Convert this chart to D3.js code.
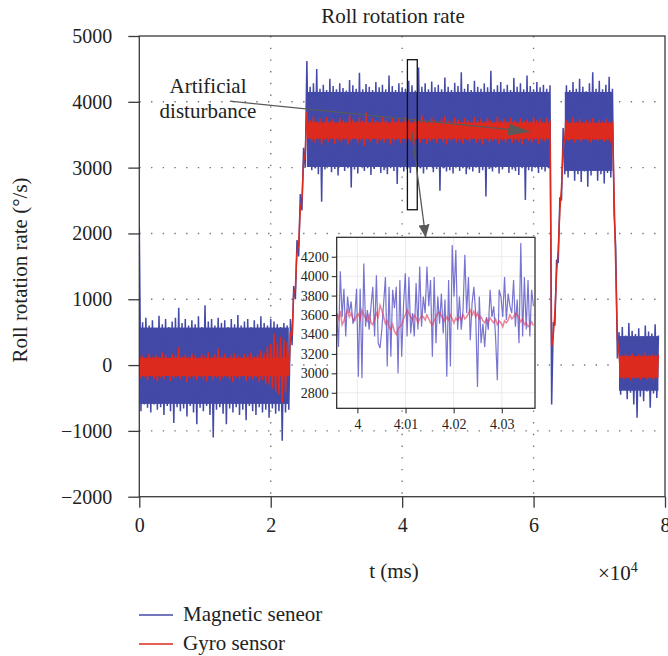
<!DOCTYPE html>
<html>
<head>
<meta charset="utf-8">
<script src="https://cdn.jsdelivr.net/npm/d3@7"></script>
<style>
  body { margin: 0; background: #fff; }
  text { font-family: "Liberation Serif", "Times New Roman", serif; fill: #222; }
</style>
</head>
<body>
<div id="main"></div>
<script>
// sample clock of the recorded series (ms between two stored points)
const SAMPLE_MS = 250;

// magnetic sensor (alternating upper / lower excursions)
const magneticValues = [
  2100,-700, 650,-600, 720,-650, 600,-720, 680,-600, 560,-680, 750,-640, 620,-760, 700,-620, 580,-700,
  660,-880, 720,-640, 870,-700, 640,-660, 700,-780, 600,-620, 680,-720, 620,-900, 740,-650, 580,-700,
  910,-620, 660,-760, 700,-1100, 600,-680, 720,-640, 640,-740, 680,-900, 580,-660, 700,-720, 620,-640,
  760,-760, 600,-680, 660,-840, 700,-620, 580,-700, 680,-760, 620,-640, 740,-720, 640,-680, 600,-800,
  700,-660, 660,-740, 620,-700, 580,-1150, 640,-720, 600,-680,
  700, 300, 1200, 1000, 1900, 1650, 2600, 2350, 3300, 3000,
  4620,3050, 4230,2960, 4280,2990, 4500,2900, 4200,2480, 4260,2970, 4180,3010, 4350,2930, 4240,2980, 4190,2880,
  4280,3010, 4210,2950, 4170,2990, 4330,2700, 4250,2970, 4200,2910, 4440,3020, 4190,2950, 4270,2990, 4230,2890,
  4180,2980, 4300,3010, 4220,2920, 4260,2960, 4190,2900, 4400,2990, 4240,2950, 4180,2750, 4280,3000, 4220,2940,
  4200,2980, 4320,2920, 4250,3010, 4170,2960, 4520,2990, 4230,2910, 4280,2970, 4190,3020, 4310,2930, 4220,2980,
  4260,2650, 4190,2990, 4370,2940, 4230,2960, 4180,2910, 4290,3010, 4240,2950, 4450,2990, 4200,2900, 4270,2970,
  4180,2940, 4320,3000, 4230,2920, 4200,2960, 4280,2560, 4220,2980, 4470,2940, 4190,3000, 4250,2910, 4300,2970,
  4200,3010, 4260,2920, 4180,2970, 4360,2950, 4230,2890, 4280,2990, 4190,2510, 4400,2960, 4240,2940, 4190,3000,
  4300,2920, 4220,2970, 4260,2940, 4200,2990,
  4250, -600,
  650, 600, 1600, 1550, 2550, 2500, 3600,
  2900,
  4250,2850, 4180,2960, 4300,2800, 4200,2900, 4350,2780, 4230,2940, 4160,2710, 4280,2880, 4450,2950, 4200,2800,
  4320,2900, 4190,2760, 4260,2920, 4380,2850,
  4200,
  2300, 1800, 100,
  500,-450, 580,-380, 450,-520, 640,-420, 520,-600, 470,-800, 560,-480, 430,-550, 600,-400, 510,-650,
  480,-430, 620,-500, 450
];

// gyro sensor, same sample clock
const gyroValues = [
  170,-200, 140,-180, 110,-230, 180,-170, 130,-210, 160,-250, 120,-190, 190,-220, 150,-160, 110,-240,
  170,-200, 140,-180, 270,-220, 130,-170, 160,-260, 120,-200, 180,-190, 150,-230, 100,-180, 170,-210,
  140,-250, 190,-170, 120,-220, 160,-190, 250,-240, 130,-200, 170,-180, 110,-220, 150,-260, 180,-190,
  140,-210, 120,-170, 170,-240, 150,-200, 190,-220, 130,-190, 160,-260, 220,-230, 180,-280, 280,-300,
  320,-350, 480,-400, 340,-450, 430,-570, 390,-420, 350,-150,
  500, 450, 1100, 1150, 1750, 1800, 2400, 2500, 3100, 3200,
  3850,3450, 3720,3400, 3780,3380, 3700,3430, 3750,3350, 3690,3420, 3770,3390, 3710,3440, 3740,3360, 3680,3410,
  3760,3380, 3720,3430, 3690,3350, 3800,3400, 3730,3440, 3700,3370, 3770,3410, 3710,3330, 3840,3420, 3690,3390,
  3750,3440, 3720,3360, 3700,3410, 3780,3380, 3730,3430, 3690,3350, 3760,3400, 3710,3420, 3740,3370, 3700,3440,
  3770,3390, 3720,3410, 3690,3340, 3750,3420, 3710,3380, 3800,3430, 3730,3360, 3690,3400, 3760,3420, 3720,3370,
  3700,3440, 3740,3390, 3780,3350, 3710,3410, 3690,3430, 3760,3380, 3730,3400, 3700,3360, 3750,3420, 3720,3390,
  3690,3440, 3770,3370, 3710,3410, 3740,3350, 3700,3430, 3760,3390, 3720,3400, 3690,3420, 3780,3360, 3710,3410,
  3740,3380, 3700,3440, 3760,3370, 3720,3410, 3690,3390, 3750,3350, 3710,3430, 3730,3400, 3700,3380, 3770,3420,
  3720,3360, 3740,3410, 3690,3390, 3750,3430,
  3720, 280,
  450, 800, 1400, 1750, 2350, 2700, 3300,
  3450,
  3720,3400, 3680,3430, 3760,3380, 3700,3420, 3740,3390, 3690,3440, 3730,3400, 3710,3380, 3750,3420, 3680,3400,
  3720,3430, 3700,3390, 3740,3410, 3690,3380,
  3700,
  2600, 1500, 400,
  180,-200, 150,-220, 170,-190, 140,-230, 180,-210, 130,-200, 160,-225, 150,-190, 185,-215, 140,-200,
  170,-230, 150,-195, 160
];

// solid core of each noise band (where the trace is so dense it reads as a filled strip)
const magneticCore = [
  {t0: 0, t1: 22750, lo: -590, hi: 570},
  {t0: 25500, t1: 62500, lo: 3010, hi: 4150},
  {t0: 64750, t1: 72000, lo: 2950, hi: 4150},
  {t0: 73000, t1: 79000, lo: -390, hi: 440}
];
const gyroCore = [
  {t0: 0, t1: 22750, lo: -165, hi: 110},
  {t0: 25500, t1: 62500, lo: 3440, hi: 3685},
  {t0: 64750, t1: 72000, lo: 3430, hi: 3680},
  {t0: 73000, t1: 79000, lo: -190, hi: 135}
];

// zoomed window (inset)
const INSET_T0 = 39957;
const INSET_STEP_MS = 3.75;
const insetMagnetic = [
  3620, 3270, 4050, 3580, 3870, 3380, 3790, 3620, 3740, 3510,
  3580, 3870, 2965, 3870, 2950, 4130, 3480, 3650, 3450, 3690,
  3890, 3380, 4010, 3310, 3260, 3450, 3720, 3990, 3070, 3890,
  3170, 3860, 3670, 3890, 3000, 3960, 3170, 3690, 4030, 3380,
  3990, 3410, 3620, 3380, 3930, 3450, 4100, 3480, 3790, 3620,
  4100, 3690, 3960, 3170, 3990, 3310, 3790, 3510, 3820, 3410,
  3760, 2965, 3960, 3070, 4320, 3790, 4270, 3450, 3790, 3450,
  3650, 4220, 3620, 3990, 3340, 3720, 3890, 3620, 2860, 3790,
  3310, 3510, 3270, 3580, 3450, 3860, 3580, 3690, 3380, 2930,
  3860, 3790, 3580, 3990, 3550, 3820, 3690, 3620, 3960, 3480,
  3760, 3310, 4340, 3380, 3990, 3450, 3960, 3380, 3860, 3690
];
const insetGyro = [
  3620, 3560, 3640, 3500, 3540, 3600, 3650, 3580, 3620, 3560,
  3540, 3590, 3610, 3560, 3650, 3600, 3570, 3540, 3600, 3520,
  3500, 3560, 3620, 3580, 3700, 3650, 3580, 3510, 3540, 3480,
  3450, 3500, 3430, 3400, 3460, 3480, 3500, 3560, 3600, 3650,
  3620, 3580, 3550, 3600, 3570, 3520, 3560, 3590, 3580, 3550,
  3600, 3560, 3520, 3500, 3540, 3580, 3620, 3630, 3590, 3560,
  3540, 3580, 3550, 3600, 3560, 3520, 3570, 3540, 3580, 3550,
  3600, 3560, 3580, 3620, 3650, 3600, 3640, 3580, 3620, 3560,
  3580, 3540, 3520, 3560, 3530, 3570, 3540, 3520, 3560, 3500,
  3540, 3520, 3480, 3540, 3520, 3550, 3600, 3560, 3580, 3620,
  3600, 3570, 3530, 3560, 3500, 3520, 3480, 3500, 3530, 3490
];

const xTicks = [0, 20000, 40000, 60000, 80000];
const xTickLabels = ["0", "2", "4", "6", "8"];
const yTicks = [-2000, -1000, 0, 1000, 2000, 3000, 4000, 5000];
const xGrid = [20000, 40000, 60000];
const yGrid = [-1000, 0, 1000, 2000, 3000, 4000];
const insetXTicks = [40000, 40100, 40200, 40300];
const insetXTickLabels = ["4", "4.01", "4.02", "4.03"];
const insetYTicks = [2800, 3000, 3200, 3400, 3600, 3800, 4000, 4200];

const series = [
  {name: "Magnetic seneor", values: magneticValues, core: magneticCore, color: "#4349a6"},
  {name: "Gyro sensor", values: gyroValues, core: gyroCore, color: "#dd2a1f"}
];

const W = 668, H = 656;
const box = {left: 139.3, right: 665, top: 36, bottom: 496.7};
const insetBox = {left: 336.7, right: 535, top: 237.3, bottom: 408.3};

const svg = d3.select("#main").append("svg").attr("width", W).attr("height", H);
const defs = svg.append("defs");

const x = d3.scaleLinear().domain([0, 80000]).range([box.left, box.right]);
const y = d3.scaleLinear().domain([-2000, 5000]).range([box.bottom, box.top]);

defs.append("clipPath").attr("id", "plotClip").append("rect")
  .attr("x", box.left).attr("y", box.top)
  .attr("width", box.right - box.left).attr("height", box.bottom - box.top);

// dotted grid
const gridG = svg.append("g").attr("stroke", "#777").attr("stroke-width", 1.4)
  .attr("stroke-dasharray", "1.4,10.3");
gridG.selectAll("line.gy").data(yGrid).enter().append("line")
  .attr("x1", box.left).attr("x2", box.right)
  .attr("y1", d => y(d)).attr("y2", d => y(d));
gridG.selectAll("line.gx").data(xGrid).enter().append("line")
  .attr("x1", d => x(d)).attr("x2", d => x(d))
  .attr("y1", box.top).attr("y2", box.bottom);

// the two recordings: dense core strip + raw trace on top
const line = d3.line().x((d, i) => x(i * SAMPLE_MS)).y(d => y(d));
const dataG = svg.append("g").attr("clip-path", "url(#plotClip)");
series.forEach(s => {
  dataG.append("g").selectAll("rect").data(s.core).enter().append("rect")
    .attr("x", d => x(d.t0)).attr("width", d => x(d.t1) - x(d.t0))
    .attr("y", d => y(d.hi)).attr("height", d => y(d.lo) - y(d.hi))
    .attr("fill", s.color);
  dataG.append("path").attr("d", line(s.values))
    .attr("fill", "none")
    .attr("stroke", s.color)
    .attr("stroke-width", 1.5)
    .attr("stroke-linejoin", "bevel");
});

// annotations
function arrowMarker(id, len, wid) {
  defs.append("marker").attr("id", id)
    .attr("markerUnits", "userSpaceOnUse")
    .attr("markerWidth", len).attr("markerHeight", wid)
    .attr("refX", len).attr("refY", wid / 2)
    .attr("orient", "auto")
    .append("path")
    .attr("d", `M0,0L${len},${wid / 2}L0,${wid}Z`)
    .attr("fill", "#5a5a5a");
}
arrowMarker("headBig", 22, 12);
arrowMarker("headSmall", 13, 11);

const disturbanceArrow = {from: [13800, 4010], to: [59500, 3545]};
const zoomArrow = {from: [41460, 3550], to: [43590, 1935]};
const zoomWindow = {t0: 40800, t1: 42300, v0: 2360, v1: 4640};

svg.append("line")
  .attr("x1", x(disturbanceArrow.from[0])).attr("y1", y(disturbanceArrow.from[1]))
  .attr("x2", x(disturbanceArrow.to[0])).attr("y2", y(disturbanceArrow.to[1]))
  .attr("stroke", "#5a5a5a").attr("stroke-width", 1.3)
  .attr("marker-end", "url(#headBig)");

svg.append("rect")
  .attr("x", x(zoomWindow.t0)).attr("y", y(zoomWindow.v1))
  .attr("width", x(zoomWindow.t1) - x(zoomWindow.t0))
  .attr("height", y(zoomWindow.v0) - y(zoomWindow.v1))
  .attr("fill", "none").attr("stroke", "#111").attr("stroke-width", 1.3);

svg.append("line")
  .attr("x1", x(zoomArrow.from[0])).attr("y1", y(zoomArrow.from[1]))
  .attr("x2", x(zoomArrow.to[0])).attr("y2", y(zoomArrow.to[1]))
  .attr("stroke", "#5a5a5a").attr("stroke-width", 1.3)
  .attr("marker-end", "url(#headSmall)");

svg.append("text").attr("x", 208).attr("y", 93).attr("text-anchor", "middle")
  .attr("font-size", 21).text("Artificial");
svg.append("text").attr("x", 208).attr("y", 118).attr("text-anchor", "middle")
  .attr("font-size", 21).text("disturbance");

// frame
svg.append("rect")
  .attr("x", box.left).attr("y", box.top)
  .attr("width", box.right - box.left).attr("height", box.bottom - box.top)
  .attr("fill", "none").attr("stroke", "#3a3a3a").attr("stroke-width", 1.3);

// main axes
const yAxis = d3.axisLeft(y).tickValues(yTicks).tickSize(11).tickPadding(16)
  .tickFormat(d => d < 0 ? "\u2212" + Math.abs(d) : String(d));
const yAxisG = svg.append("g").attr("transform", `translate(${box.left},0)`).call(yAxis);
const xAxis = d3.axisBottom(x).tickValues(xTicks).tickSize(11).tickPadding(10)
  .tickFormat((d, i) => xTickLabels[i]);
const xAxisG = svg.append("g").attr("transform", `translate(0,${box.bottom})`).call(xAxis);
[yAxisG, xAxisG].forEach(g => {
  g.select(".domain").remove();
  g.selectAll(".tick line").attr("stroke", "#3a3a3a").attr("stroke-width", 1.3);
  g.selectAll(".tick text").attr("font-size", 20).attr("font-family", "Liberation Serif").attr("fill", "#222");
});

// labels
svg.append("text").attr("x", 393).attr("y", 23).attr("text-anchor", "middle")
  .attr("font-size", 21).text("Roll rotation rate");
svg.append("text").attr("transform", "translate(27,270) rotate(-90)")
  .attr("text-anchor", "middle").attr("font-size", 21).text("Roll rotation rate (°/s)");
svg.append("text").attr("x", 394).attr("y", 578).attr("text-anchor", "middle")
  .attr("font-size", 21).text("t (ms)");
const expo = svg.append("text").attr("x", 598).attr("y", 580).attr("font-size", 21).text("\u00d710");
expo.append("tspan").attr("dy", -8).attr("font-size", 14).text("4");

// inset
const ix = d3.scaleLinear().domain([INSET_T0, 40369]).range([insetBox.left, insetBox.right]);
const iy = d3.scaleLinear().domain([2640, 4400]).range([insetBox.bottom, insetBox.top]);
defs.append("clipPath").attr("id", "insetClip").append("rect")
  .attr("x", insetBox.left).attr("y", insetBox.top)
  .attr("width", insetBox.right - insetBox.left).attr("height", insetBox.bottom - insetBox.top);

const inset = svg.append("g");
inset.append("rect")
  .attr("x", insetBox.left).attr("y", insetBox.top)
  .attr("width", insetBox.right - insetBox.left).attr("height", insetBox.bottom - insetBox.top)
  .attr("fill", "#fff");
inset.selectAll("line.igx").data(insetXTicks).enter().append("line")
  .attr("x1", d => ix(d)).attr("x2", d => ix(d))
  .attr("y1", insetBox.top).attr("y2", insetBox.bottom)
  .attr("stroke", "#ebebeb").attr("stroke-width", 1);
inset.selectAll("line.igy").data(insetYTicks).enter().append("line")
  .attr("x1", insetBox.left).attr("x2", insetBox.right)
  .attr("y1", d => iy(d)).attr("y2", d => iy(d))
  .attr("stroke", "#ebebeb").attr("stroke-width", 1);

const insetLine = d3.line().x((d, i) => ix(INSET_T0 + i * INSET_STEP_MS)).y(d => iy(d));
const insetG = inset.append("g").attr("clip-path", "url(#insetClip)");
insetG.append("path").attr("d", insetLine(insetMagnetic))
  .attr("fill", "none").attr("stroke", "#4b45c2").attr("stroke-opacity", 0.75).attr("stroke-width", 1.2);
insetG.append("path").attr("d", insetLine(insetGyro))
  .attr("fill", "none").attr("stroke", "#e0385e").attr("stroke-opacity", 0.6).attr("stroke-width", 1.6);

inset.append("rect")
  .attr("x", insetBox.left).attr("y", insetBox.top)
  .attr("width", insetBox.right - insetBox.left).attr("height", insetBox.bottom - insetBox.top)
  .attr("fill", "none").attr("stroke", "#222").attr("stroke-width", 1.2);

const iyAxisG = inset.append("g").attr("transform", `translate(${insetBox.left},0)`)
  .call(d3.axisLeft(iy).tickValues(insetYTicks).tickSize(5).tickPadding(3).tickFormat(d => String(d)));
const ixAxisG = inset.append("g").attr("transform", `translate(0,${insetBox.bottom})`)
  .call(d3.axisBottom(ix).tickValues(insetXTicks).tickSize(5).tickPadding(6)
    .tickFormat((d, i) => insetXTickLabels[i]));
[iyAxisG, ixAxisG].forEach(g => {
  g.select(".domain").remove();
  g.selectAll(".tick line").attr("stroke", "#222");
  g.selectAll(".tick text").attr("font-size", 14).attr("font-family", "Liberation Serif").attr("fill", "#222");
});

// legend
const legend = svg.append("g").selectAll("g").data(series).enter().append("g")
  .attr("transform", (d, i) => `translate(139,${615 + i * 29})`);
legend.append("line").attr("x1", 0).attr("x2", 34)
  .attr("stroke", d => d.color).attr("stroke-width", 1.3);
legend.append("text").attr("x", 44).attr("y", 6).attr("font-size", 21).text(d => d.name);
</script>
</body>
</html>
